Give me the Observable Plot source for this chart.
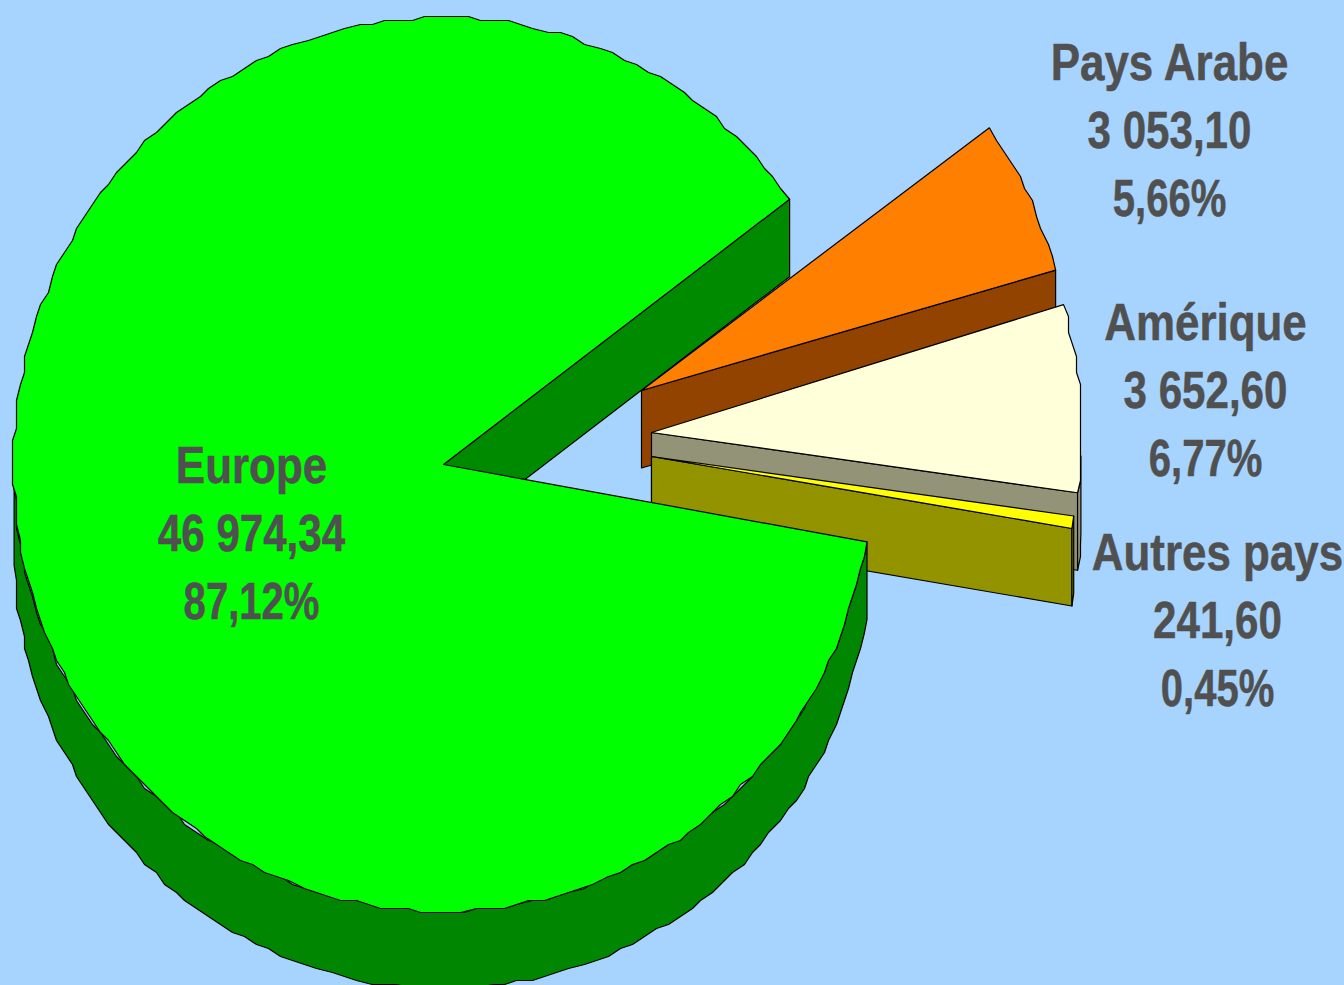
<!DOCTYPE html>
<html>
<head>
<meta charset="utf-8">
<script src="https://cdn.jsdelivr.net/npm/d3@7"></script>
<script src="https://cdn.jsdelivr.net/npm/@observablehq/plot@0.6"></script>
<style>html,body{margin:0;padding:0;background:#a6d4ff;overflow:hidden}svg{display:block}</style>
</head>
<body>
<script>
// Data
const countries = ["Pays Arabe", "Amérique", "Autres pays", "Europe"];
const amounts = ["3 053,10", "3 652,60", "241,60", "46 974,34"];
const percents = [5.66, 6.77, 0.45, 87.12];
const percentLabels = ["5,66%", "6,77%", "0,45%", "87,12%"];

// Styles and layout
const topColors = ["#ff7f00", "#ffffd9", "#ffff00", "#00ff00"];
const wallColors = ["#934300", "#939378", "#939300", "#008a00"];
const rimColors = ["#934300", "#939378", "#939300", "#008600"];
const offsetX = [198, 208, 208, 0];
const offsetY = [-74, -32, -8, 0];
const turn = [-0.4, 0.6, 0.7, 0];
const radiusXs = [430, 430, 426, 430];
const labelX = [1169, 1205, 1217, 251];
const labelY = [63, 323, 553, 466];
const linePitch = 68;
const centerX = 443, centerY = 464, radiusY = 447, depth = 77.5;
const startAngle = 36.4, sampleStep = 1.8, grid = 4;
const lineSqueeze = [0.845, 0.81, 0.77], rimInset = 3;

const rad = d => d * Math.PI / 180;
const snap = v => Math.round(v / grid) * grid;

// arc samples from angle a to angle b, jagged like the low-resolution original
function arc(i, a, b, down = 0) {
  const cx = centerX + offsetX[i], cy = centerY + offsetY[i] + down;
  const at = (t) => [cx + radiusXs[i] * Math.cos(rad(t)), cy - radiusY * Math.sin(rad(t))];
  const out = [];
  const n = Math.max(1, Math.round(Math.abs(a - b) / sampleStep));
  for (let k = 0; k <= n; k++) {
    const [x, y] = at(a + (b - a) * k / n);
    out.push(k === 0 || k === n ? {x, y} : {x: snap(x), y: snap(y)});
  }
  return out;
}

const polygons = [];
let cursor = startAngle;
const slices = percents.map((p, i) => {
  const a = cursor + turn[i], b = cursor - p * 3.6 + turn[i];
  cursor -= p * 3.6;
  return {i, a, b};
});
for (const {i, a, b} of slices) {
  const apex = {x: centerX + offsetX[i], y: centerY + offsetY[i]};
  const apexLow = {x: apex.x, y: apex.y + depth};
  const end = arc(i, b, b)[0];
  // radial wall along the slice's clockwise edge
  polygons.push({pts: [apex, end, {x: end.x, y: end.y + depth}, apexLow], fill: wallColors[i]});
  // outer rim, only where it faces the viewer
  const hi = Math.min(a, -rimInset), lo = Math.max(b, -180 + rimInset);
  if (hi > lo) {
    const upper = arc(i, hi, lo), lower = arc(i, lo, hi, depth);
    polygons.push({pts: [...upper, ...lower], fill: rimColors[i]});
  }
  // top face
  polygons.push({pts: [apex, ...arc(i, a, b)], fill: topColors[i]});
}

const labelRows = countries.flatMap((c, i) => [
  {x: labelX[i], y: labelY[i], text: c},
  {x: labelX[i], y: labelY[i] + linePitch, text: amounts[i]},
  {x: labelX[i], y: labelY[i] + 2 * linePitch, text: percentLabels[i]}
]);

const chart = Plot.plot({
  width: 1344, height: 985,
  margin: 0,
  x: {domain: [0, 1344], axis: null},
  y: {domain: [985, 0], axis: null},
  style: {background: "#a6d4ff"},
  marks: [
    ...polygons.map(p => Plot.line(p.pts, {
      x: "x", y: "y", fill: p.fill, stroke: "#000", strokeWidth: 1.2,
      curve: "linear-closed"
    })),
    Plot.text(labelRows, {
      x: "x", y: "y", text: "text", textAnchor: "middle", lineAnchor: "middle",
      fontFamily: "'Liberation Sans',Arial,sans-serif",
      fontWeight: "bold", fontSize: 52, fill: "#505050",
      stroke: "#505050", strokeWidth: 0.5,
      render(index, scales, values, dimensions, context, next) {
        const g = next(index, scales, values, dimensions, context);
        d3.select(g).selectAll("text").attr("transform", function (d, n) {
          return `${this.getAttribute("transform") || ""} scale(${lineSqueeze[n % 3]},1)`;
        });
        return g;
      }
    })
  ]
});
document.body.appendChild(chart);
</script>
</body>
</html>
